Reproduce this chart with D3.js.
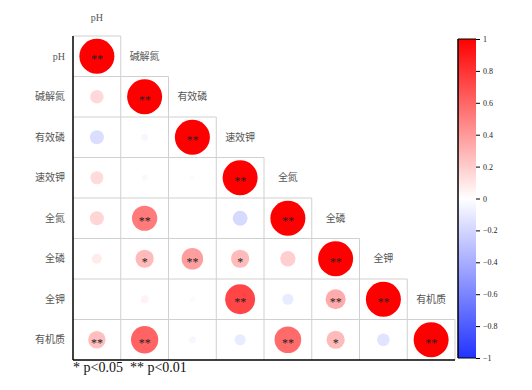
<!DOCTYPE html>
<html>
<head>
<meta charset="utf-8">
<script src="https://cdn.jsdelivr.net/npm/d3@7"></script>
<style>
  body { margin: 0; background: #fff; }
  text { font-family: "Liberation Serif", "Noto Sans CJK SC", serif; }
</style>
</head>
<body>
<svg id="corr" width="532" height="390"></svg>
<script>
var vars = ["pH", "碱解氮", "有效磷", "速效钾", "全氮", "全磷", "全钾", "有机质"];

// lower triangle of the correlation matrix, row by row
var corr = [
  [1],
  [0.15, 1],
  [-0.16, -0.04, 1],
  [0.14, 0.03, 0.02, 1],
  [0.16, 0.52, 0.00, -0.18, 1],
  [0.08, 0.27, 0.38, 0.27, 0.19, 1],
  [0.00, 0.05, 0.02, 0.73, -0.10, 0.33, 1],
  [0.25, 0.61, -0.04, -0.10, 0.58, 0.27, -0.13, 1]
];

var sig = [
  ["**"],
  ["", "**"],
  ["", "", "**"],
  ["", "", "", "**"],
  ["", "**", "", "", "**"],
  ["", "*", "**", "*", "", "**"],
  ["", "", "", "**", "", "**", "**"],
  ["**", "**", "", "", "**", "*", "", "**"]
];

var barTicks = [1, 0.8, 0.6, 0.4, 0.2, 0, -0.2, -0.4, -0.6, -0.8, -1];

var svg = d3.select("#corr"),
    mLeft = 73, mRight = 455, mTop = 36, mBottom = 360;

var x = d3.scaleBand().domain(vars).range([mLeft, mRight]);
var y = d3.scaleBand().domain(vars).range([mTop, mBottom]);
var rad = d3.scaleSqrt().domain([0, 1]).range([0, 17.5]);
var color = d3.scaleLinear()
    .domain([-1, 0, 1])
    .range(["#2233ff", "#ffffff", "#ff0000"]);

var cells = [];
corr.forEach(function(row, i) {
  row.forEach(function(v, j) {
    cells.push({row: vars[i], col: vars[j], value: v, sig: sig[i][j]});
  });
});

// grid lines of the lower triangle
var grid = svg.append("g").attr("stroke", "#d0d0d0").attr("stroke-width", 1);
vars.forEach(function(v) {
  grid.append("line")
      .attr("x1", mLeft).attr("x2", x(v) + x.bandwidth())
      .attr("y1", y(v)).attr("y2", y(v));
  grid.append("line")
      .attr("x1", x(v) + x.bandwidth()).attr("x2", x(v) + x.bandwidth())
      .attr("y1", y(v)).attr("y2", mBottom);
});

// axes
svg.append("line").attr("x1", mLeft).attr("x2", mLeft).attr("y1", mTop).attr("y2", mBottom)
    .attr("stroke", "#000").attr("stroke-width", 1.5);
svg.append("line").attr("x1", mLeft).attr("x2", mRight).attr("y1", mBottom).attr("y2", mBottom)
    .attr("stroke", "#000").attr("stroke-width", 1.5);

// circles
svg.append("g").selectAll("circle")
  .data(cells)
  .enter().append("circle")
    .attr("cx", function(d) { return x(d.col) + x.bandwidth() / 2; })
    .attr("cy", function(d) { return y(d.row) + y.bandwidth() / 2; })
    .attr("r", function(d) { return rad(Math.abs(d.value)); })
    .attr("fill", function(d) { return color(d.value); });

svg.append("g").selectAll("text")
  .data(cells.filter(function(d) { return d.sig; }))
  .enter().append("text")
    .attr("x", function(d) { return x(d.col) + x.bandwidth() / 2; })
    .attr("y", function(d) { return y(d.row) + y.bandwidth() / 2; })
    .attr("dy", "0.6em")
    .attr("text-anchor", "middle")
    .attr("font-size", 12)
    .attr("fill", "#222")
    .text(function(d) { return d.sig; });

// row labels
svg.append("g").selectAll("text")
  .data(vars)
  .enter().append("text")
    .attr("x", mLeft - 8)
    .attr("y", function(d) { return y(d) + y.bandwidth() / 2; })
    .attr("dy", "0.35em")
    .attr("text-anchor", "end")
    .attr("font-size", 10)
    .attr("fill", "#555")
    .text(function(d) { return d; });

// column labels, sitting next to the diagonal
svg.append("g").selectAll("text")
  .data(vars)
  .enter().append("text")
    .attr("x", function(d) { return x(d) + x.bandwidth() / 2; })
    .attr("y", function(d, i) { return i === 0 ? 17 : y(vars[i - 1]) + y.bandwidth() / 2; })
    .attr("dy", "0.35em")
    .attr("text-anchor", "middle")
    .attr("font-size", 10)
    .attr("fill", "#555")
    .text(function(d) { return d; });

// significance note
svg.append("text")
    .attr("x", mLeft)
    .attr("y", 372)
    .attr("font-size", 14)
    .attr("fill", "#111")
    .attr("xml:space", "preserve")
    .text("* p<0.05  ** p<0.01");

// colour bar
var barX = 458, barW = 18;
var by = d3.scaleLinear().domain([-1, 1]).range([358, 39]);

var grad = svg.append("defs").append("linearGradient")
    .attr("id", "bar").attr("x1", 0).attr("y1", 1).attr("x2", 0).attr("y2", 0);
grad.selectAll("stop")
  .data([-1, 0, 1])
  .enter().append("stop")
    .attr("offset", function(d) { return (d + 1) / 2; })
    .attr("stop-color", function(d) { return color(d); });

svg.append("rect")
    .attr("x", barX).attr("y", by(1))
    .attr("width", barW).attr("height", by(-1) - by(1))
    .attr("fill", "url(#bar)");

svg.append("line").attr("x1", barX).attr("x2", barX).attr("y1", by(1)).attr("y2", by(-1))
    .attr("stroke", "#000").attr("stroke-width", 1.5);
svg.append("line").attr("x1", barX).attr("x2", barX + barW).attr("y1", by(1)).attr("y2", by(1))
    .attr("stroke", "#000");
svg.append("line").attr("x1", barX).attr("x2", barX + barW).attr("y1", by(-1)).attr("y2", by(-1))
    .attr("stroke", "#000");

var barAxis = svg.append("g")
    .attr("transform", "translate(" + (barX + barW) + ",0)")
    .call(d3.axisRight(by).tickValues(barTicks).tickSize(4).tickPadding(3)
      .tickFormat(function(d) { return d3.format("")(d); }));
barAxis.select(".domain").remove();
barAxis.selectAll("text")
    .attr("font-size", 8)
    .attr("font-family", "Liberation Serif, serif")
    .attr("fill", "#222");
</script>
</body>
</html>
